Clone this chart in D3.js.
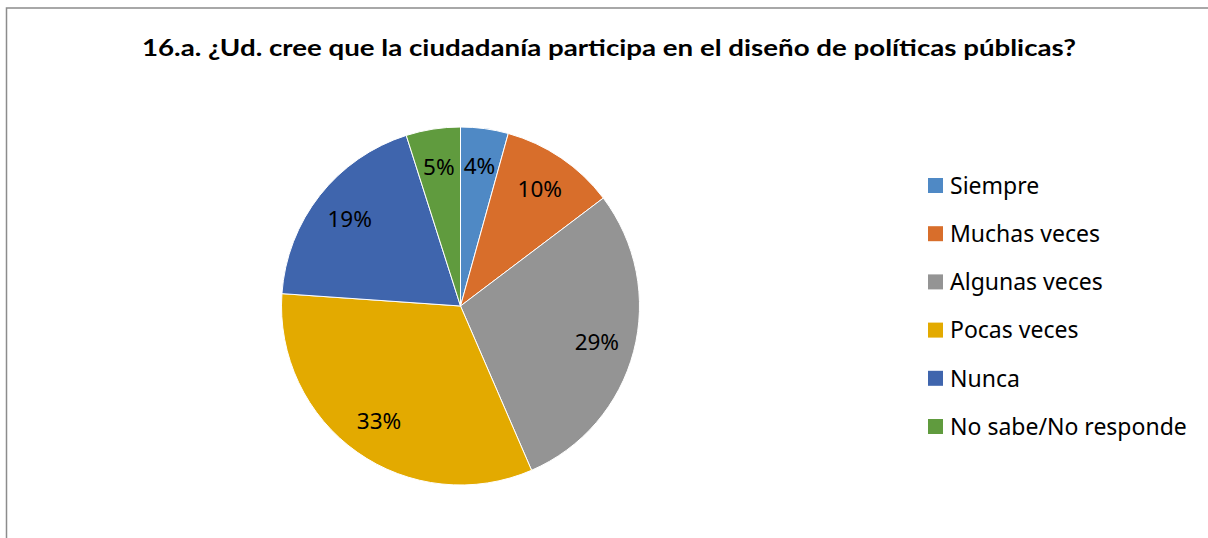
<!DOCTYPE html>
<html>
<head>
<meta charset="utf-8">
<script src="https://cdn.jsdelivr.net/npm/d3@7"></script>
<style>
  body { margin: 0; background: #fff; }
  svg { display: block; }
</style>
</head>
<body>
<div id="chart"></div>
<script>
var categories = ["Siempre", "Muchas veces", "Algunas veces", "Pocas veces", "Nunca", "No sabe/No responde"];
var values = [4.3, 10.4, 28.8, 32.6, 19.0, 4.9];
var colors = ["#4f89c5", "#d86e2b", "#949494", "#e3aa00", "#3f65ad", "#609b3e"];
var title = "16.a. ¿Ud. cree que la ciudadanía participa en el diseño de políticas públicas?";

var width = 1208, height = 538;
var font = "'Noto Sans', 'Open Sans', sans-serif";
var titleFont = "Lato, 'Noto Sans', sans-serif";

var svg = d3.select("#chart")
    .append("svg")
    .attr("width", width)
    .attr("height", height)

// frame of the chart area (runs past right and bottom)
svg.append("rect")
    .attr("x", 6.5)
    .attr("y", 8)
    .attr("width", width + 10)
    .attr("height", height + 10)
    .attr("fill", "none")
    .attr("stroke", "#8c8c8c")
    .attr("stroke-width", 1.5);

svg.append("text")
    .attr("x", 609)
    .attr("y", 56)
    .attr("text-anchor", "middle")
    .attr("font-family", titleFont)
    .attr("font-weight", "bold")
    .attr("font-size", 22)
    .attr("textLength", 934)
    .attr("lengthAdjust", "spacingAndGlyphs")
    .attr("fill", "#000")
    .text(title);

var data = categories.map(function(c, i) {
    return {name: c, value: values[i], color: colors[i]};
});
var total = d3.sum(values);

var cx = 460.5, cy = 306, radius = 179;

var pie = d3.pie()
    .sort(null)
    .value(function(d) { return d.value; });

var arc = d3.arc().innerRadius(0).outerRadius(radius);
var labelArc = d3.arc().innerRadius(141).outerRadius(141);

var g = svg.append("g")
    .attr("transform", "translate(" + cx + "," + cy + ")");

var slices = g.selectAll(".slice")
    .data(pie(data))
    .enter()
    .append("g")
    .attr("class", "slice");

slices.append("path")
    .attr("d", arc)
    .attr("fill", function(d) { return d.data.color; })
    .attr("stroke", "#fff")
    .attr("stroke-width", 1);

var pct = d3.format(".0%");
slices.append("text")
    .attr("transform", function(d) { return "translate(" + labelArc.centroid(d) + ")"; })
    .attr("dy", "0.36em")
    .attr("text-anchor", "middle")
    .attr("font-family", font)
    .attr("font-size", 22.5)
    .attr("fill", "#000")
    .text(function(d) { return pct(d.data.value / total); });

// legend
var legend = svg.selectAll(".legend")
    .data(data)
    .enter()
    .append("g")
    .attr("class", "legend")
    .attr("transform", function(d, i) { return "translate(928," + (178 + i * 48.2) + ")"; });

legend.append("rect")
    .attr("width", 15)
    .attr("height", 15)
    .attr("fill", function(d) { return d.color; });

legend.append("text")
    .attr("x", 22)
    .attr("y", 7.5)
    .attr("dy", "0.36em")
    .attr("font-family", font)
    .attr("font-size", 23)
    .attr("fill", "#000")
    .text(function(d) { return d.name; });
</script>
</body>
</html>
